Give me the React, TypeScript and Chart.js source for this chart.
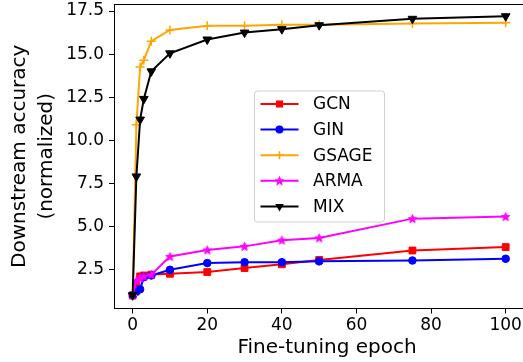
import React, { useEffect, useRef } from 'react';
import { Chart, registerables } from 'chart.js';

Chart.register(...registerables);

const epochs = [0, 1, 2, 3, 5, 10, 20, 30, 40, 50, 75, 100];
const gcn = [1.0, 1.7, 2.1, 2.15, 2.2, 2.25, 2.35, 2.58, 2.8, 3.05, 3.6, 3.8];
const gin = [1.0, 1.2, 1.35, 2.05, 2.15, 2.48, 2.87, 2.92, 2.92, 2.97, 3.02, 3.12];
const gsage = [1.0, 10.9, 14.25, 14.65, 15.75, 16.4, 16.65, 16.65, 16.7, 16.7, 16.78, 16.82];
const arma = [1.0, 1.85, 2.0, 2.1, 2.2, 3.25, 3.63, 3.84, 4.2, 4.33, 5.45, 5.57];
const mix = [1.0, 7.9, 11.2, 12.4, 14.0, 15.05, 15.85, 16.25, 16.45, 16.68, 17.05, 17.2];

const seriesNames = ['GCN', 'GIN', 'GSAGE', 'ARMA', 'MIX'];
const seriesValues = [gcn, gin, gsage, arma, mix];
const seriesColors = ['#ff0000', '#0000ff', '#ffa500', '#ff00ff', '#000000'];
const seriesMarkers = ['rect', 'circle', 'cross', 'star', 'tri'];

const xTicks = [0, 20, 40, 60, 80, 100];
const yTicks = [2.5, 5, 7.5, 10, 12.5, 15, 17.5];

const FONT = "'DejaVu Sans', sans-serif";

function makeStar(color: string, size: number) {
  const c = document.createElement('canvas');
  c.width = size;
  c.height = size;
  const ctx = c.getContext('2d')!;
  const cx = size / 2;
  const cy = size / 2 + 0.4;
  const R = size / 2 - 1;
  const r = R * 0.42;
  ctx.beginPath();
  for (let i = 0; i < 10; i++) {
    const ang = -Math.PI / 2 + (i * Math.PI) / 5;
    const rad = i % 2 === 0 ? R : r;
    ctx.lineTo(cx + rad * Math.cos(ang), cy + rad * Math.sin(ang));
  }
  ctx.closePath();
  ctx.fillStyle = color;
  ctx.fill();
  ctx.strokeStyle = color;
  ctx.lineWidth = 1;
  ctx.stroke();
  return c;
}

function drawMarker(ctx: CanvasRenderingContext2D, kind: string, x: number, y: number, color: string, star: HTMLCanvasElement) {
  ctx.save();
  ctx.fillStyle = color;
  ctx.strokeStyle = color;
  ctx.lineWidth = 1;
  if (kind === 'rect') {
    ctx.fillRect(x - 3.5, y - 3.5, 7, 7);
  } else if (kind === 'circle') {
    ctx.beginPath();
    ctx.arc(x, y, 4, 0, Math.PI * 2);
    ctx.fill();
  } else if (kind === 'cross') {
    ctx.lineWidth = 1.5;
    ctx.beginPath();
    ctx.moveTo(x - 4, y);
    ctx.lineTo(x + 4, y);
    ctx.moveTo(x, y - 4);
    ctx.lineTo(x, y + 4);
    ctx.stroke();
  } else if (kind === 'star') {
    ctx.drawImage(star, x - star.width / 2, y - star.height / 2);
  } else {
    const r = 5;
    ctx.beginPath();
    ctx.moveTo(x, y + r);
    ctx.lineTo(x - r * 0.866, y - r * 0.5);
    ctx.lineTo(x + r * 0.866, y - r * 0.5);
    ctx.closePath();
    ctx.fill();
  }
  ctx.restore();
}

// canvas is shifted up by SHIFT px inside a clipping wrapper
const SHIFT = 2.5;

export default function App() {
  const ref = useRef<HTMLCanvasElement | null>(null);

  useEffect(() => {
    const canvas = ref.current;
    if (!canvas) return;
    const star = makeStar('#ff00ff', 11);

    const pointStyles: any[] = ['rect', 'circle', 'cross', star, 'triangle'];
    const radii = [4.8, 3.8, 4.5, 5, 5];
    const rotations = [0, 0, 0, 0, 180];
    const orders = [4, 3, 2, 1, 0];

    const datasets = seriesNames.map((name, i) => ({
      label: name,
      data: epochs.map((e, j) => ({ x: e, y: seriesValues[i][j] })),
      borderColor: seriesColors[i],
      backgroundColor: seriesColors[i],
      pointBackgroundColor: seriesColors[i],
      pointBorderColor: seriesColors[i],
      pointBorderWidth: i === 2 ? 1.5 : 1,
      pointStyle: pointStyles[i],
      pointRadius: radii[i],
      pointRotation: rotations[i],
      borderWidth: 2,
      tension: 0,
      order: orders[i],
    }));

    const framePlugin = {
      id: 'frameAndLegend',
      afterDraw(chart: any) {
        const ctx: CanvasRenderingContext2D = chart.ctx;
        const a = chart.chartArea;
        ctx.save();
        ctx.strokeStyle = '#000';
        ctx.lineWidth = 1;
        ctx.beginPath();
        ctx.moveTo(a.left, a.top + 0.5);
        ctx.lineTo(a.right, a.top + 0.5);
        ctx.stroke();

        // legend box (screen coords -> canvas coords: + SHIFT)
        const bx = 254.5, by = 90.5 + SHIFT, bw = 130, bh = 131, rad = 3;
        ctx.beginPath();
        ctx.moveTo(bx + rad, by);
        ctx.lineTo(bx + bw - rad, by);
        ctx.quadraticCurveTo(bx + bw, by, bx + bw, by + rad);
        ctx.lineTo(bx + bw, by + bh - rad);
        ctx.quadraticCurveTo(bx + bw, by + bh, bx + bw - rad, by + bh);
        ctx.lineTo(bx + rad, by + bh);
        ctx.quadraticCurveTo(bx, by + bh, bx, by + bh - rad);
        ctx.lineTo(bx, by + rad);
        ctx.quadraticCurveTo(bx, by, bx + rad, by);
        ctx.closePath();
        ctx.fillStyle = 'rgba(255,255,255,0.8)';
        ctx.fill();
        ctx.strokeStyle = '#d0d0d0';
        ctx.stroke();

        ctx.font = `17px ${FONT}`;
        ctx.textBaseline = 'middle';
        ctx.textAlign = 'left';
        seriesNames.forEach((name, i) => {
          const y = 103.5 + SHIFT + i * 25.6;
          ctx.strokeStyle = seriesColors[i];
          ctx.lineWidth = 2;
          ctx.beginPath();
          ctx.moveTo(260.5, y);
          ctx.lineTo(298.5, y);
          ctx.stroke();
          drawMarker(ctx, seriesMarkers[i], 279.5, y, seriesColors[i], star);
          ctx.fillStyle = '#000';
          ctx.fillText(name, 313, y + 1);
        });
        ctx.restore();
      },
    };

    const chart = new Chart(canvas, {
      type: 'line',
      data: { datasets },
      options: {
        animation: false,
        responsive: false,
        devicePixelRatio: 1,
        layout: { padding: { top: 3.5, right: 20, left: 0, bottom: 0 } },
        plugins: { legend: { display: false }, tooltip: { enabled: false } },
        scales: {
          x: {
            type: 'linear',
            min: -5,
            max: 109.2,
            afterBuildTicks: (s: any) => { s.ticks = xTicks.map((v) => ({ value: v })); },
            afterFit: (s: any) => { s.height = 54.5; s.paddingLeft = 0; s.paddingRight = 0; },
            grid: { display: true, drawOnChartArea: false, drawTicks: true, tickLength: 5, color: '#000', tickColor: '#000', tickWidth: 1 },
            border: { display: true, color: '#000', width: 1 },
            ticks: { color: '#000', font: { family: FONT, size: 17 }, padding: 2, maxRotation: 0, autoSkip: false },
            title: { display: true, text: 'Fine-tuning epoch', color: '#000', font: { family: FONT, size: 20 }, padding: { top: 0, bottom: 3 } },
          },
          y: {
            type: 'linear',
            min: 0.233,
            max: 17.91,
            afterBuildTicks: (s: any) => { s.ticks = yTicks.map((v) => ({ value: v })); },
            afterFit: (s: any) => { s.width = 114; s.paddingTop = 0; s.paddingBottom = 0; },
            grid: { display: true, drawOnChartArea: false, drawTicks: true, tickLength: 5, color: '#000', tickColor: '#000', tickWidth: 1 },
            border: { display: true, color: '#000', width: 1 },
            ticks: { color: '#000', font: { family: FONT, size: 17 }, padding: 5, callback: (v: any) => Number(v).toFixed(1) },
            title: { display: true, text: ['Downstream accuracy', '(normalized)'], color: '#000', font: { family: FONT, size: 20, lineHeight: 1.35 }, padding: { top: 6.5, bottom: 0 } },
          },
        },
      },
      plugins: [framePlugin],
    } as any);

    return () => chart.destroy();
  }, []);

  return (
    <div style={{ position: 'fixed', left: 0, top: 0, width: 523, height: 362, overflow: 'hidden', background: '#fff' }}>
      <canvas
        ref={ref}
        width={560}
        height={365}
        style={{ display: 'block', position: 'absolute', left: 0, top: -SHIFT, width: 560, height: 365 }}
      />
    </div>
  );
}
